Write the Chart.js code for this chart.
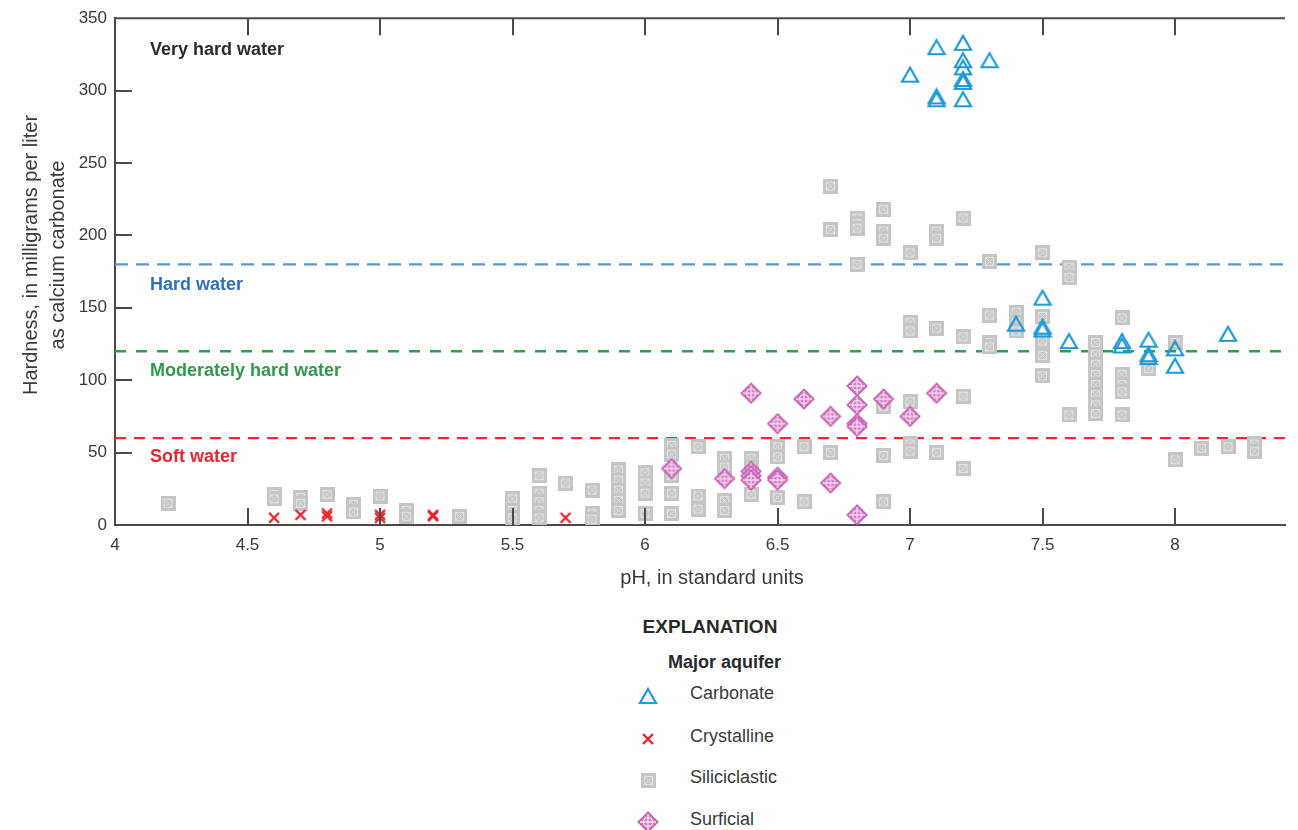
<!DOCTYPE html>
<html><head><meta charset="utf-8">
<script src="https://cdn.jsdelivr.net/npm/chart.js@4.4.1/dist/chart.umd.min.js"></script>
<style>
html,body{margin:0;padding:0;background:#fff;}
body{width:1298px;height:830px;overflow:hidden;position:relative;font-family:'Liberation Sans',Arial,sans-serif;color:#3a3a3a;}
#wrap{position:absolute;left:0;top:0;width:1298px;height:600px;}
.lg{position:absolute;white-space:nowrap;line-height:1;}
.lgm{position:absolute;}
</style></head><body>
<div id="wrap"><canvas id="c" width="1298" height="600"></canvas></div>
<div class="lg" id="expl" style="left:0;width:1420px;text-align:center;top:617px;font-weight:bold;font-size:19px;color:#2a2a2a;">EXPLANATION</div>
<div class="lg" style="left:668px;top:653px;font-weight:bold;font-size:18px;color:#2a2a2a;">Major aquifer</div>
<div id="legend"></div>
<script>
// ---------- data ----------
const phTicks = [4, 4.5, 5, 5.5, 6, 6.5, 7, 7.5, 8];
const hardnessTicks = [0, 50, 100, 150, 200, 250, 300, 350];

const carbonatePH = [7.0,7.1,7.1,7.1,7.2,7.2,7.2,7.2,7.2,7.2,7.3,7.4,7.5,7.5,7.5,7.6,7.8,7.8,7.9,7.9,7.9,8.0,8.0,8.2];
const carbonateHard = [311,330,296,294,333,321,316,308,306,294,321,139,157,137,135,127,127,124,128,118,116,122,110,132];

const crystallinePH = [4.6,4.7,4.8,4.8,5.0,5.0,5.2,5.2,5.7];
const crystallineHard = [5,7,6,8,5,7,6,7,5];

const siliciclasticPH = [
 4.2,
 4.6,4.6, 4.7,4.7, 4.8, 4.9,4.9, 5.0, 5.1,5.1, 5.3,
 5.5,5.5,5.5, 5.6,5.6,5.6,5.6,5.6, 5.7, 5.8,5.8,5.8,
 5.9,5.9,5.9,5.9,5.9, 6.0,6.0,6.0,6.0, 6.1,6.1,6.1,6.1,6.1,
 6.2,6.2,6.2, 6.3,6.3,6.3,6.3, 6.4,6.4,6.4, 6.5,6.5,6.5, 6.6,6.6,
 6.7,6.7,6.7, 6.8,6.8,6.8,6.8, 6.9,6.9,6.9,6.9,6.9,6.9,
 7.0,7.0,7.0,7.0,7.0,7.0, 7.1,7.1,7.1,7.1, 7.2,7.2,7.2,7.2,
 7.3,7.3,7.3,7.3, 7.4,7.4,7.4, 7.5,7.5,7.5,7.5,7.5, 7.6,7.6,7.6,
 7.7,7.7,7.7,7.7,7.7,7.7,7.7,7.7, 7.8,7.8,7.8,7.8,7.8, 7.9,
 8.0,8.0, 8.1, 8.2, 8.3,8.3
];
const siliciclasticHard = [
 15,
 21,18, 19,15, 21, 14,9, 20, 10,6, 6,
 18,10,5, 34,22,16,10,5, 29, 24,8,4,
 38,31,24,17,10, 36,29,22,8, 55,49,34,22,8,
 54,20,11, 46,40,17,10, 46,40,21, 54,47,19, 54,16,
 234,204,50, 212,208,205,180, 218,203,198,82,48,16,
 188,140,134,85,56,51, 203,198,136,50, 212,130,89,39,
 182,145,126,123, 147,140,134, 188,144,127,117,103, 178,171,76,
 126,118,111,104,97,90,83,77, 143,104,97,92,76, 108,
 126,45, 53, 54, 56,51
];

const surficialPH = [6.1,6.3,6.4,6.4,6.4,6.4,6.5,6.5,6.5,6.6,6.7,6.7,6.8,6.8,6.8,6.8,6.8,6.9,7.0,7.1];
const surficialHard = [39,32,91,37,34,31,70,33,31,87,75,29,96,83,70,68,7,87,75,91];

const classNames = ['Very hard water', 'Hard water', 'Moderately hard water', 'Soft water'];
const classLimits = [180, 120, 60];

// ---------- markers ----------
function mk(w, h, draw) {
  const c = document.createElement('canvas');
  c.width = w; c.height = h;
  draw(c.getContext('2d'), w, h);
  return c;
}
function triMarker() {
  return mk(20, 18, (g, w, h) => {
    g.strokeStyle = '#1d9ad8'; g.lineWidth = 2.2; g.lineJoin = 'miter';
    g.beginPath(); g.moveTo(w/2, 2); g.lineTo(w-2, h-2); g.lineTo(2, h-2); g.closePath(); g.stroke();
  });
}
function crossMarker() {
  return mk(14, 14, (g, w, h) => {
    g.strokeStyle = '#e8262e'; g.lineWidth = 2.4;
    g.beginPath(); g.moveTo(2,2); g.lineTo(w-2,h-2); g.moveTo(w-2,2); g.lineTo(2,h-2); g.stroke();
  });
}
function squareMarker() {
  return mk(15, 15, (g, w, h) => {
    g.fillStyle = '#c5c5c5'; g.fillRect(0,0,w,h);
    g.strokeStyle = '#e2e2e2'; g.lineWidth = 1;
    g.strokeRect(3.5,3.5,w-7,h-7);
    g.beginPath(); g.moveTo(4,4); g.lineTo(w-4,h-4); g.moveTo(w-4,4); g.lineTo(4,h-4); g.stroke();
  });
}
function diamondMarker() {
  return mk(22, 22, (g, w, h) => {
    const cx = w/2, cy = h/2, r = 10;
    g.fillStyle = '#d27ac3'; g.strokeStyle = '#c45db0'; g.lineWidth = 1.2;
    g.beginPath(); g.moveTo(cx, cy-r); g.lineTo(cx+r, cy); g.lineTo(cx, cy+r); g.lineTo(cx-r, cy); g.closePath();
    g.fill(); g.stroke();
    g.strokeStyle = '#f6dcf0'; g.lineWidth = 1.3;
    g.beginPath(); g.arc(cx, cy, 4.5, 0, Math.PI*2); g.stroke();
    g.beginPath(); g.moveTo(cx, cy-8); g.lineTo(cx, cy+8); g.moveTo(cx-8, cy); g.lineTo(cx+8, cy); g.stroke();
  });
}

function pts(xs, ys) { return xs.map((x, i) => ({x: x, y: ys[i]})); }

const FONT = "'Liberation Sans', Arial, sans-serif";
const XMAX = 8.415;

const lineColors = ['#5b96d3', '#2f9e4c', '#ec2a33'];
const lineDashes = [[13, 8], [11, 10], [11, 8]];
const labelColors = ['#2b2b2b', '#2f6fbd', '#2f9a4a', '#e8262e'];
const labelValues = [328, 166, 106.5, 47];

const thresholdSets = classLimits.map((v, i) => ({
  type: 'scatter', showLine: true, data: [{x: 4, y: v}, {x: XMAX, y: v}],
  borderColor: lineColors[i], borderWidth: 2.4, borderDash: lineDashes[i],
  pointRadius: 0, order: 10, clip: false
}));

const decor = {
  id: 'decor',
  afterDraw(chart) {
    const g = chart.ctx, a = chart.chartArea;
    const xs = chart.scales.x, ys = chart.scales.y;
    g.save();
    g.strokeStyle = '#4a4a4a'; g.lineWidth = 2;
    // top frame line
    g.beginPath(); g.moveTo(a.left, a.top); g.lineTo(a.right, a.top); g.stroke();
    // inward ticks
    g.beginPath();
    phTicks.forEach(v => {
      if (v === 4) return;
      const px = Math.round(xs.getPixelForValue(v));
      g.moveTo(px, a.bottom); g.lineTo(px, a.bottom - 17);
      g.moveTo(px, a.top); g.lineTo(px, a.top + 17);
    });
    hardnessTicks.forEach(v => {
      if (v === 0 || v === 350) return;
      const py = Math.round(ys.getPixelForValue(v));
      g.moveTo(a.left, py); g.lineTo(a.left + 17, py);
    });
    g.stroke();
    // class labels
    g.font = 'bold 18px ' + FONT;
    g.textAlign = 'left'; g.textBaseline = 'middle';
    classNames.forEach((t, i) => {
      g.fillStyle = labelColors[i];
      g.fillText(t, 150, ys.getPixelForValue(labelValues[i]));
    });
    // axis titles
    g.fillStyle = '#3a3a3a';
    g.font = '20px ' + FONT;
    g.textAlign = 'center';
    g.fillText('pH, in standard units', 712, 578);
    g.translate(0, 255);
    g.rotate(-Math.PI / 2);
    g.fillText('Hardness, in milligrams per liter', 0, 31);
    g.fillText('as calcium carbonate', 0, 58);
    g.restore();
  }
};

new Chart(document.getElementById('c'), {
  type: 'scatter',
  data: {
    datasets: [
      {label: 'Carbonate', data: pts(carbonatePH, carbonateHard), pointStyle: triMarker(), pointRadius: 8, order: 0},
      {label: 'Crystalline', data: pts(crystallinePH, crystallineHard), pointStyle: crossMarker(), pointRadius: 7, order: 1},
      {label: 'Surficial', data: pts(surficialPH, surficialHard), pointStyle: diamondMarker(), pointRadius: 10, order: 2},
      {label: 'Siliciclastic', data: pts(siliciclasticPH, siliciclasticHard), pointStyle: squareMarker(), pointRadius: 7, order: 3},
      ...thresholdSets
    ]
  },
  options: {
    responsive: false, animation: false,
    layout: {padding: {top: 16, right: 13, left: 0, bottom: 0}},
    plugins: {legend: {display: false}, tooltip: {enabled: false}},
    events: [],
    scales: {
      x: {
        type: 'linear', min: 4, max: XMAX,
        afterBuildTicks: s => { s.ticks = phTicks.map(v => ({value: v})); },
        afterFit: s => { s.height = 75; },
        grid: {display: false, drawTicks: false},
        border: {display: true, color: '#4a4a4a', width: 2},
        ticks: {callback: v => String(v), font: {family: FONT, size: 17}, color: '#3a3a3a', padding: 10, maxRotation: 0}
      },
      y: {
        type: 'linear', min: 0, max: 350,
        afterBuildTicks: s => { s.ticks = hardnessTicks.map(v => ({value: v})); },
        afterFit: s => { s.width = 115; },
        grid: {display: false, drawTicks: false},
        border: {display: true, color: '#4a4a4a', width: 2},
        ticks: {callback: v => String(v), font: {family: FONT, size: 17}, color: '#3a3a3a', padding: 8}
      }
    }
  },
  plugins: [decor]
});

// ---------- HTML legend ----------
const legendItems = [
  {name: 'Carbonate', make: triMarker, y: 693},
  {name: 'Crystalline', make: crossMarker, y: 736},
  {name: 'Siliciclastic', make: squareMarker, y: 777},
  {name: 'Surficial', make: diamondMarker, y: 819}
];
const lg = document.getElementById('legend');
legendItems.forEach(it => {
  const c = it.make();
  c.className = 'lgm';
  c.style.left = (648 - c.width / 2) + 'px';
  c.style.top = (it.y + 3 - c.height / 2) + 'px';
  lg.appendChild(c);
  const d = document.createElement('div');
  d.className = 'lg';
  d.style.left = '690px'; d.style.top = (it.y - 9) + 'px';
  d.style.fontSize = '18px'; d.style.color = '#3a3a3a';
  d.textContent = it.name;
  lg.appendChild(d);
});
</script>
</body></html>
